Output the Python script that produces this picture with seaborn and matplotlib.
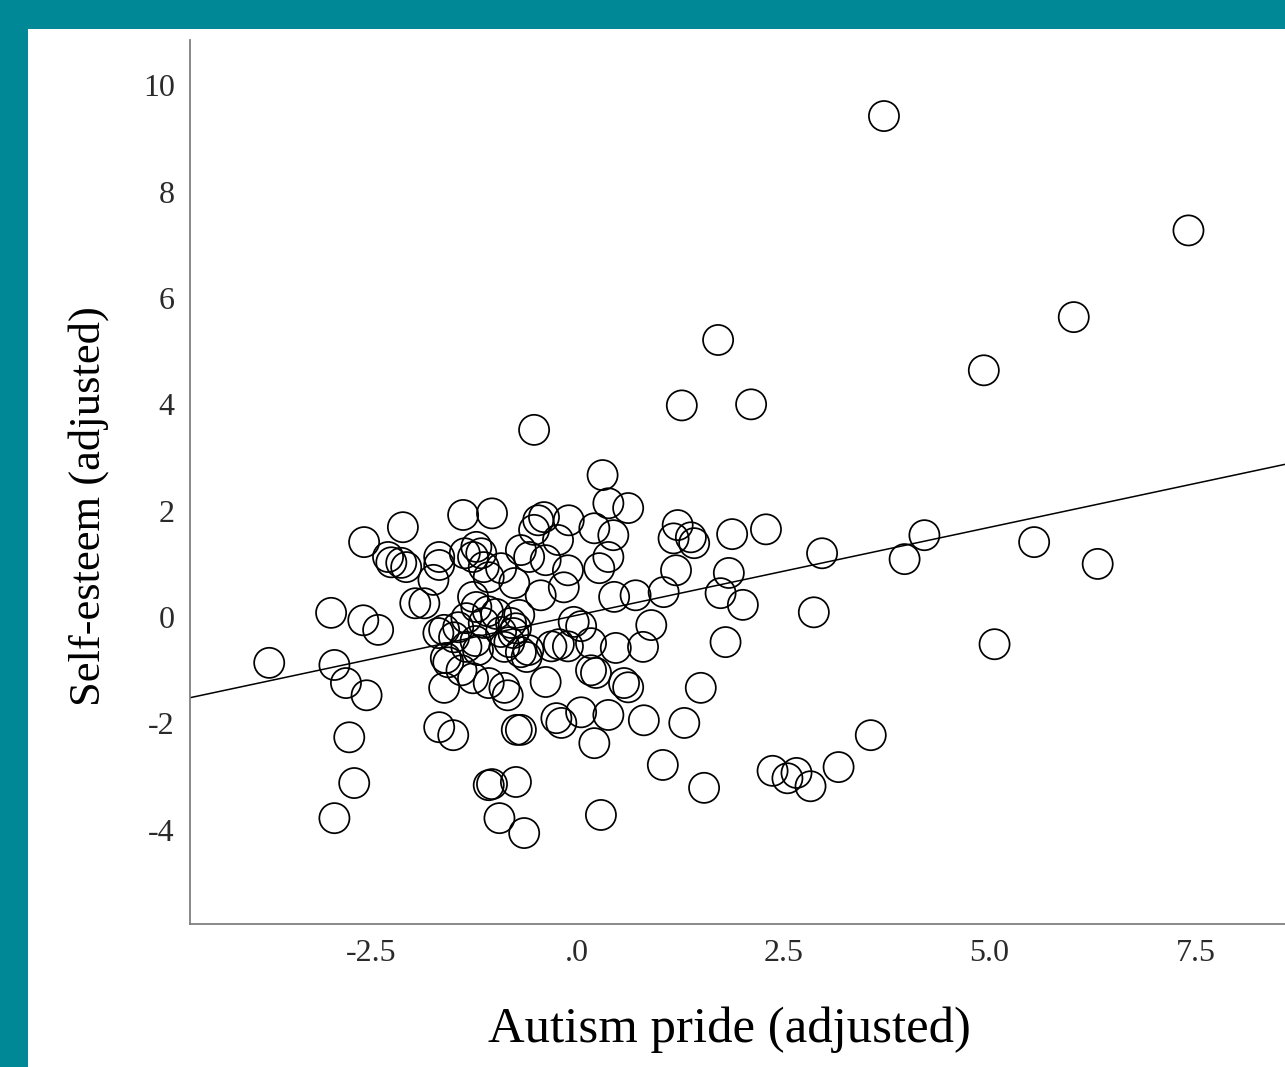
import numpy as np
import pandas as pd
import seaborn as sns
import matplotlib.pyplot as plt
from matplotlib.patches import Rectangle

# ==========================================
# Data
# ==========================================

autism_pride = [
    3.72, 7.41, 6.02, 4.93, 1.71, 1.27, 2.11, -0.52, 0.31, 5.54,
    6.31, 3.97, 4.21, 2.97, 2.29, 2.87, 5.06, 3.56, 3.17, 2.37,
    2.66, 2.55, 2.83, 1.54, 1.04, 1.30, 0.81, 1.50, 1.80, 2.01,
    1.74, 1.84, 1.88, 1.22, 1.17, 1.38, 1.42, 1.20, 1.05, 0.71,
    0.90, 0.80, 0.45, 0.62, 0.38, 0.44, 0.38, 0.27, 0.21, -0.10,
    -0.11, -0.16, -0.04, 0.05, -0.31, -0.22, -0.11, 0.17, 0.47, 0.17,
    0.23, 0.57, 0.62, 0.05, 0.38, -0.19, -0.25, 0.21, 0.29, -0.38,
    -0.68, -0.73, -0.74, -1.07, -1.03, -0.94, -0.64, -0.84, -0.88, -1.07,
    -1.26, -1.40, -1.59, -1.20, -0.68, -0.61, -1.61, -1.67, -1.50, -1.38,
    -1.03, -2.11, -0.47, -0.40, -0.52, -0.23, -1.67, -1.67, -1.22, -1.26,
    -1.16, -1.13, -1.07, -0.92, -0.68, -0.58, -0.38, -0.76, -0.44, -1.96,
    -1.85, -1.26, -1.22, -1.68, -1.61, -1.44, -1.49, -1.13, -1.34, -0.80,
    -0.74, -0.77, -0.70, -0.92, -1.34, -1.23, -0.88, -0.59, -1.56, -2.58,
    -2.29, -2.25, -2.07, -2.13, -1.74, -2.98, -2.59, -2.41, -3.73, -2.94,
    -2.80, -2.55, -2.76, -2.70, -2.94, -1.08, -0.98, -0.82, -1.36,
]

self_esteem = [
    9.42, 7.27, 5.64, 4.64, 5.21, 3.98, 4.00, 3.52, 2.67, 1.41,
    1.00, 1.09, 1.54, 1.20, 1.65, 0.09, -0.51, -2.22, -2.82, -2.89,
    -2.93, -3.03, -3.18, -3.21, -2.78, -1.99, -1.94, -1.33, -0.47, 0.23,
    0.45, 0.83, 1.56, 1.73, 1.48, 1.50, 1.39, 0.88, 0.47, 0.41,
    -0.15, -0.56, 0.38, 2.05, 2.14, 1.54, 1.13, 0.92, 1.67, 1.82,
    0.88, 0.56, -0.09, -0.17, -0.55, -0.51, -0.55, -0.49, -0.58, -1.00,
    -1.05, -1.24, -1.32, -1.79, -1.84, -1.99, -1.90, -2.37, -3.72, -1.22,
    -2.12, -2.12, -3.10, -3.16, -3.14, -3.78, -4.06, -1.47, -1.33, -1.24,
    -1.15, -1.00, -0.77, -0.62, -0.66, -0.75, -1.33, -2.07, -2.22, 1.92,
    1.95, 1.69, 1.82, 1.88, 1.64, 1.45, 1.13, 0.98, 1.32, 1.13,
    1.20, 0.94, 0.75, 0.92, 1.26, 1.13, 1.07, 0.64, 0.41, 0.26,
    0.26, 0.38, 0.19, -0.30, -0.24, -0.19, -0.38, -0.11, -0.02, -0.11,
    -0.21, -0.30, 0.04, -0.28, -0.56, -0.45, -0.56, -0.62, -0.85, 1.41,
    1.13, 1.03, 0.94, 1.02, 0.70, 0.08, -0.06, -0.24, -0.86, -0.90,
    -1.24, -1.47, -2.26, -3.12, -3.78, 0.11, 0.06, -0.47, 1.20,
]

x_ticks = [-2.5, 0.0, 2.5, 5.0, 7.5]
x_tick_labels = ["-2.5", ".0", "2.5", "5.0", "7.5"]
y_ticks = [-4, -2, 0, 2, 4, 6, 8, 10]
y_tick_labels = ["-4", "-2", "0", "2", "4", "6", "8", "10"]

df = pd.DataFrame({"Autism pride (adjusted)": autism_pride,
                   "Self-esteem (adjusted)": self_esteem})

# ==========================================
# Style
# ==========================================

sns.set_theme(style="white")
plt.rcParams['font.family'] = ['Liberation Serif', 'DejaVu Serif']

teal = "#008896"

fig = plt.figure(figsize=(12.85, 10.67), dpi=100)
fig.patch.set_facecolor("white")

# teal frame on the top and left edges
fig.patches.append(Rectangle((0, 1 - 29 / 1067), 1, 29 / 1067,
                             transform=fig.transFigure,
                             facecolor=teal, edgecolor="none"))
fig.patches.append(Rectangle((0, 0), 28 / 1285, 1,
                             transform=fig.transFigure,
                             facecolor=teal, edgecolor="none"))

ax = fig.add_axes([190 / 1285, 1 - 924 / 1067, 1 - 190 / 1285, (924 - 40) / 1067])
ax.set_facecolor("none")
ax.set_xlim(-4.69, 8.58)
ax.set_ylim(-5.77, 10.85)

# ==========================================
# Scatter + fit line
# ==========================================

sns.scatterplot(
    data=df,
    x="Autism pride (adjusted)",
    y="Self-esteem (adjusted)",
    s=470,
    facecolors="none",
    edgecolor="black",
    linewidth=1.25,
    ax=ax
)

sns.regplot(
    data=df,
    x="Autism pride (adjusted)",
    y="Self-esteem (adjusted)",
    scatter=False,
    ci=None,
    truncate=False,
    color="black",
    line_kws={'linewidth': 1.1},
    ax=ax
)
ax.set_xlim(-4.69, 8.58)
ax.set_ylim(-5.77, 10.85)

# ==========================================
# Axes look
# ==========================================

ax.set_xticks(x_ticks)
ax.set_xticklabels(x_tick_labels)
ax.set_yticks(y_ticks)
ax.set_yticklabels(y_tick_labels)
ax.tick_params(axis='both', length=0, labelsize=23, labelcolor="#2a2a2a", pad=11)

for side in ['top', 'right']:
    ax.spines[side].set_visible(False)
for side in ['left', 'bottom']:
    ax.spines[side].set_color("#7f7f7f")
    ax.spines[side].set_linewidth(1.3)

ax.set_xlabel("Autism pride (adjusted)", fontsize=36.5, color="black")
ax.set_ylabel("Self-esteem (adjusted)", fontsize=32, color="black")
ax.xaxis.set_label_coords(0.493, -0.093)
ax.yaxis.set_label_coords(-0.074, 0.473)

plt.savefig("out.png", dpi=100)
